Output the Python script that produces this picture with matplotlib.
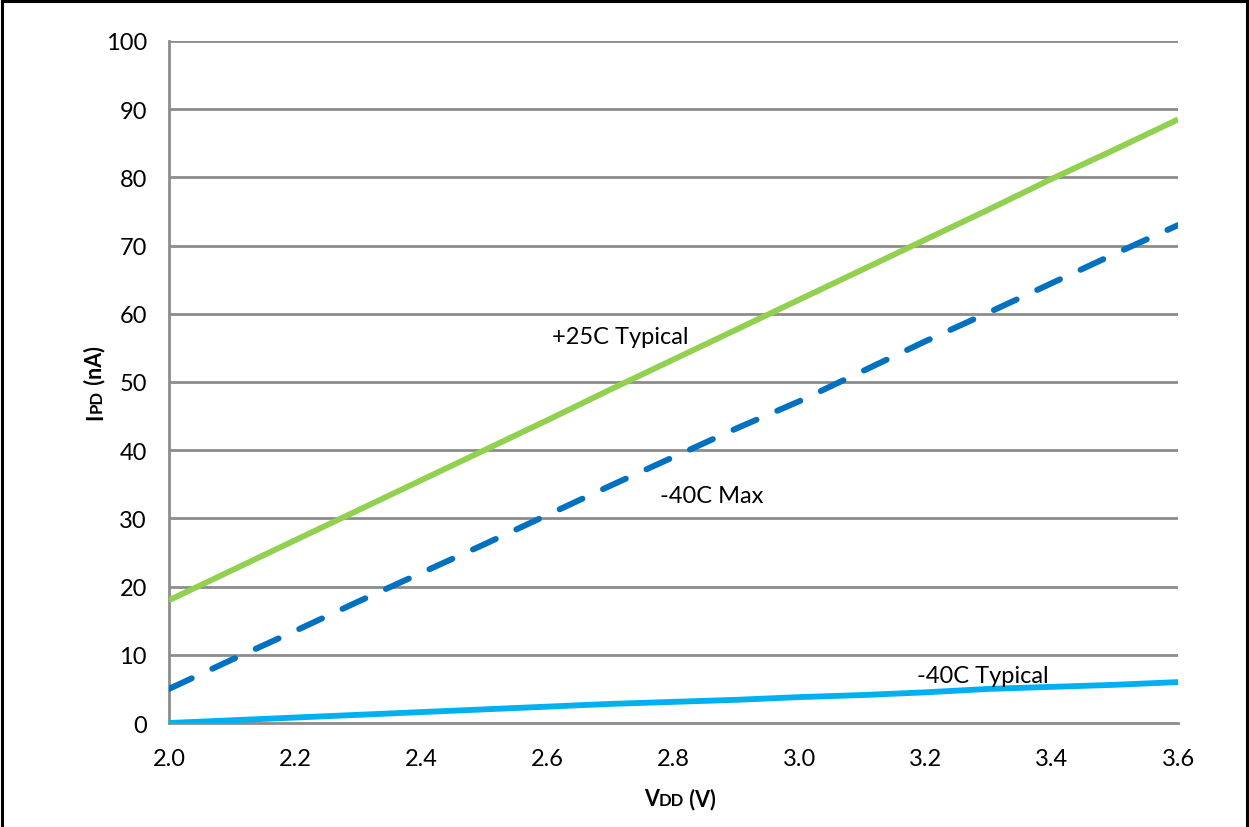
import numpy as np
import matplotlib
matplotlib.use("Agg")
from matplotlib import pyplot as plt
from matplotlib.lines import Line2D

# VDD (V) sample points
vdd = [2.0, 2.1, 2.2, 2.3, 2.4, 2.5, 2.6, 2.7, 2.8, 2.9, 3.0, 3.1, 3.2, 3.3, 3.4, 3.5, 3.6]
# IPD (nA)
typ_25c = [18.0, 22.4, 26.8, 31.2, 35.6, 40.0, 44.4, 48.9, 53.3, 57.7, 62.1, 66.5, 70.9, 75.3, 79.8, 84.1, 88.5]
max_m40c = [5.0, 9.3, 13.5, 17.8, 22.0, 26.2, 30.5, 34.8, 39.0, 43.2, 47.2, 51.6, 56.0, 60.2, 64.5, 68.8, 73.0]
typ_m40c = [0.0, 0.4, 0.8, 1.2, 1.6, 2.0, 2.4, 2.8, 3.1, 3.4, 3.8, 4.1, 4.5, 5.0, 5.3, 5.6, 6.0]

series_labels = ["+25C Typical", "-40C Max", "-40C Typical"]
label_pos = [(2.715, 56.6), (2.86, 33.3), (3.29, 7.0)]

plt.rcParams["font.family"] = ["Lato", "DejaVu Sans"]

fig = plt.figure(figsize=(12.49, 8.28), dpi=100)
ax = fig.add_axes([0.1353, 0.1256, 0.8079, 0.8237])

grid_color = "#8c8c8c"
for y in range(10, 101, 10):
    ax.axhline(y, color=grid_color, lw=2.0, zorder=1)

ax.plot(vdd, typ_25c, color="#92d050", lw=4.2, zorder=3, solid_capstyle="butt")
ax.plot(vdd, max_m40c, color="#0070c0", lw=4.3, zorder=3, dashes=(4.2, 3.8), dash_capstyle="round")
ax.plot(vdd, typ_m40c, color="#00b0f0", lw=4.2, zorder=3, solid_capstyle="butt")

for text, (x, y) in zip(series_labels, label_pos):
    ax.text(x, y, text, fontsize=17, ha="center", va="center")

ax.set_xlim(2.0, 3.6)
ax.set_ylim(0, 100)
ax.set_xticks(np.arange(2.0, 3.61, 0.2))
ax.set_xticklabels([f"{v:.1f}" for v in np.arange(2.0, 3.61, 0.2)])
ax.set_yticks(range(0, 101, 10))
ax.tick_params(length=0, labelsize=17)
ax.tick_params(axis="x", pad=18)
ax.tick_params(axis="y", pad=16)
for s in ["top", "right"]:
    ax.spines[s].set_visible(False)
for s in ["left", "bottom"]:
    ax.spines[s].set_color(grid_color)
    ax.spines[s].set_linewidth(2.0)

# axis labels with small-caps style subscripts
fig.canvas.draw()
r = fig.canvas.get_renderer()
inv = fig.transFigure.inverted()

big, small = 15.5, 12

t1 = fig.text(0.5, 0.026, "V", fontsize=big, fontweight="bold", ha="left", va="baseline")
fig.canvas.draw()
bb = t1.get_window_extent(r)
x0 = bb.x1
items = [t1]
for s, fs in [("DD", small), (" (V)", big)]:
    t = fig.text(inv.transform((x0, 0))[0], 0.026, s, fontsize=fs, fontweight="bold", ha="left", va="baseline")
    fig.canvas.draw()
    x0 = t.get_window_extent(r).x1
    items.append(t)
width = x0 - bb.x0
shift = (680 - width / 2) - bb.x0
for t in items:
    px = t.get_position()
    t.set_x(px[0] + shift / fig.bbox.width)

ybase = 0.0815
ty = fig.text(ybase, 0.5, "I", fontsize=big, fontweight="bold", rotation=90,
              rotation_mode="anchor", ha="left", va="baseline")
fig.canvas.draw()
bb = ty.get_window_extent(r)
y0 = bb.y1
yitems = [ty]
for s, fs in [("PD", small), (" (nA)", big)]:
    t = fig.text(ybase, inv.transform((0, y0))[1], s, fontsize=fs, fontweight="bold", rotation=90,
                 rotation_mode="anchor", ha="left", va="baseline")
    fig.canvas.draw()
    y0 = t.get_window_extent(r).y1
    yitems.append(t)
height = y0 - bb.y0
yshift = ((828 - 383) - height / 2) - bb.y0
for t in yitems:
    px = t.get_position()
    t.set_y(px[1] + yshift / fig.bbox.height)

# chart frame
fig.add_artist(Line2D([0.002, 0.002], [0, 0.997], color="black", lw=2.2, transform=fig.transFigure))
fig.add_artist(Line2D([0.002, 0.998], [0.997, 0.997], color="black", lw=2.2, transform=fig.transFigure))
fig.add_artist(Line2D([0.998, 0.998], [0, 0.997], color="black", lw=2.2, transform=fig.transFigure))

fig.savefig("out.png", dpi=100)
